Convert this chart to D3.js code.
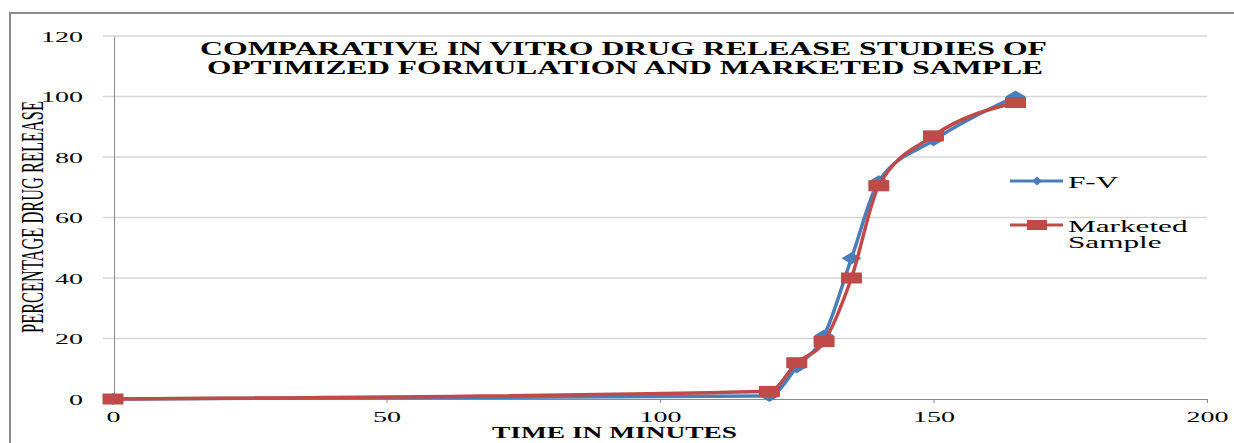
<!DOCTYPE html>
<html>
<head>
<meta charset="utf-8">
<script src="https://cdn.jsdelivr.net/npm/d3@7"></script>
<style>
    body { margin: 0; background: #fff; }
    svg { display: block; }
</style>
</head>
<body>
<div id="chart"></div>
<script>
// Data
const times = [0, 120, 125, 130, 135, 140, 150, 165]
const fvRelease = [0, 1, 10.5, 21, 46.5, 72, 85.5, 100]
const marketedRelease = [0, 2.5, 12, 19, 40, 70.5, 87, 98]
const seriesNames = ["F-V", "Marketed Sample"]
const xTicks = [0, 50, 100, 150, 200]
const yTicks = [0, 20, 40, 60, 80, 100, 120]
const titleLines = ["COMPARATIVE IN VITRO DRUG RELEASE STUDIES OF", "OPTIMIZED FORMULATION AND MARKETED SAMPLE"]

// Chart parameters
const WIDTH = 1234
const HEIGHT = 443
const PLOT = {LEFT: 113, RIGHT: 1207, TOP: 36, BOTTOM: 399}
const SX = 1.87                       // the picture is stretched sideways, so text is too
const FONT = "'Liberation Serif', 'Times New Roman', serif"
const BLUE = "#4a7ebb"
const RED = "#be4b48"
const GRID = "#d6d6d6"
const AXIS = "#8a8a8a"

let svg = d3.select("#chart").append("svg")
    .attr("width", WIDTH)
    .attr("height", HEIGHT)

// outer chart frame (left and top edges show)
svg.append("path")
    .attr("d", `M10,${HEIGHT} L10,13 L${WIDTH},13`)
    .attr("fill", "none")
    .attr("stroke", "#8c8c8c")
    .attr("stroke-width", 2)

let xScale = d3.scaleLinear().domain([0, 200]).range([PLOT.LEFT, PLOT.RIGHT])
let yScale = d3.scaleLinear().domain([0, 120]).range([PLOT.BOTTOM, PLOT.TOP])

// horizontal gridlines (they poke out left of the axis as ticks)
svg.append("g").selectAll("line")
    .data(yTicks.filter(d => d > 0))
    .join("line")
    .attr("x1", PLOT.LEFT - 10)
    .attr("x2", PLOT.RIGHT)
    .attr("y1", d => yScale(d))
    .attr("y2", d => yScale(d))
    .attr("stroke", GRID)
    .attr("stroke-width", 1.5)

// y axis
let yAxis = svg.append("g")
    .attr("transform", `translate(${PLOT.LEFT + 1},0)`)
    .call(d3.axisLeft(yScale).tickValues(yTicks).tickSize(0).tickSizeOuter(0))
yAxis.select(".domain").attr("stroke", AXIS)
yAxis.selectAll("text")
    .attr("x", null).attr("dy", null)
    .attr("transform", "translate(-31,5) scale(" + SX + ",1)")
    .attr("font-family", FONT).attr("font-size", 15).attr("fill", "#000")

// x axis
let xAxis = svg.append("g")
    .attr("transform", `translate(0,${PLOT.BOTTOM})`)
    .call(d3.axisBottom(xScale).tickValues(xTicks).tickSize(4).tickSizeOuter(0))
xAxis.select(".domain").attr("stroke", AXIS)
xAxis.selectAll(".tick line").attr("stroke", AXIS)
xAxis.selectAll(".tick").filter(d => d === 0).select("line").remove()
xAxis.selectAll("text")
    .attr("y", null).attr("dy", null)
    .attr("transform", "translate(0,23) scale(" + SX + ",1)")
    .attr("font-family", FONT).attr("font-size", 15).attr("fill", "#000")
// little stub of the x axis left of zero
svg.append("line")
    .attr("x1", PLOT.LEFT - 10).attr("x2", PLOT.LEFT)
    .attr("y1", PLOT.BOTTOM).attr("y2", PLOT.BOTTOM)
    .attr("stroke", AXIS)

// smoothed lines like the spreadsheet (monotone so the long flat stretch does not sag)
let line = d3.line()
    .x(d => xScale(d[0]))
    .y(d => yScale(d[1]))
    .curve(d3.curveMonotoneX)

const diamond = "M0,-6 L10,0 L0,6 L-10,0 Z"
const square = "M-10.5,-5.5 H10.5 V5.5 H-10.5 Z"

function drawSeries(values, colour, marker) {
    let pts = times.map((t, i) => [t, values[i]])
    svg.append("path").datum(pts)
        .attr("d", line)
        .attr("fill", "none")
        .attr("stroke", colour)
        .attr("stroke-width", 3.5)
        .attr("stroke-linejoin", "round")
    svg.append("g").selectAll("path")
        .data(pts)
        .join("path")
        .attr("d", marker)
        .attr("transform", d => `translate(${xScale(d[0])},${yScale(d[1])})`)
        .attr("fill", colour)
}
drawSeries(fvRelease, BLUE, diamond)
drawSeries(marketedRelease, RED, square)

// title
svg.append("g").selectAll("text")
    .data(titleLines)
    .join("text")
    .attr("x", (d, i) => [623.5, 625][i])
    .attr("y", (d, i) => 55 + i * 18.5)
    .attr("text-anchor", "middle")
    .attr("textLength", (d, i) => [847, 836][i])
    .attr("lengthAdjust", "spacingAndGlyphs")
    .attr("font-family", FONT)
    .attr("font-weight", "bold")
    .attr("font-size", 18)
    .text(d => d)

// axis titles
svg.append("text")
    .attr("x", 614.5).attr("y", 438)
    .attr("text-anchor", "middle")
    .attr("textLength", 245)
    .attr("lengthAdjust", "spacingAndGlyphs")
    .attr("font-family", FONT).attr("font-weight", "bold").attr("font-size", 16)
    .text("TIME IN MINUTES")

svg.append("g")
    .attr("transform", "translate(43,217) scale(2,1) rotate(-90)")
    .append("text")
    .attr("text-anchor", "middle")
    .attr("textLength", 232)
    .attr("lengthAdjust", "spacingAndGlyphs")
    .attr("font-family", FONT).attr("font-size", 16)
    .text("PERCENTAGE DRUG RELEASE")

// legend
const legend = [
    {name: seriesNames[0], colour: BLUE, marker: "M0,-4.5 L5,0 L0,4.5 L-5,0 Z", y: 181, lines: ["F-V"]},
    {name: seriesNames[1], colour: RED, marker: "M-10,-5 H10 V5 H-10 Z", y: 225, lines: ["Marketed", "Sample"]}
]
let lg = svg.append("g").selectAll("g").data(legend).join("g")
lg.append("line")
    .attr("x1", 1010).attr("x2", 1063)
    .attr("y1", d => d.y).attr("y2", d => d.y)
    .attr("stroke", d => d.colour).attr("stroke-width", 3)
lg.append("path")
    .attr("d", d => d.marker)
    .attr("transform", d => `translate(1037,${d.y})`)
    .attr("fill", d => d.colour)
lg.each(function(d) {
    d3.select(this).selectAll("text")
        .data(d.lines)
        .join("text")
        .attr("transform", (t, i) => `translate(1068,${d.y + 6.5 + i * 16}) scale(1.95,1)`)
        .attr("font-family", FONT).attr("font-size", 16)
        .text(t => t)
})
</script>
</body>
</html>
